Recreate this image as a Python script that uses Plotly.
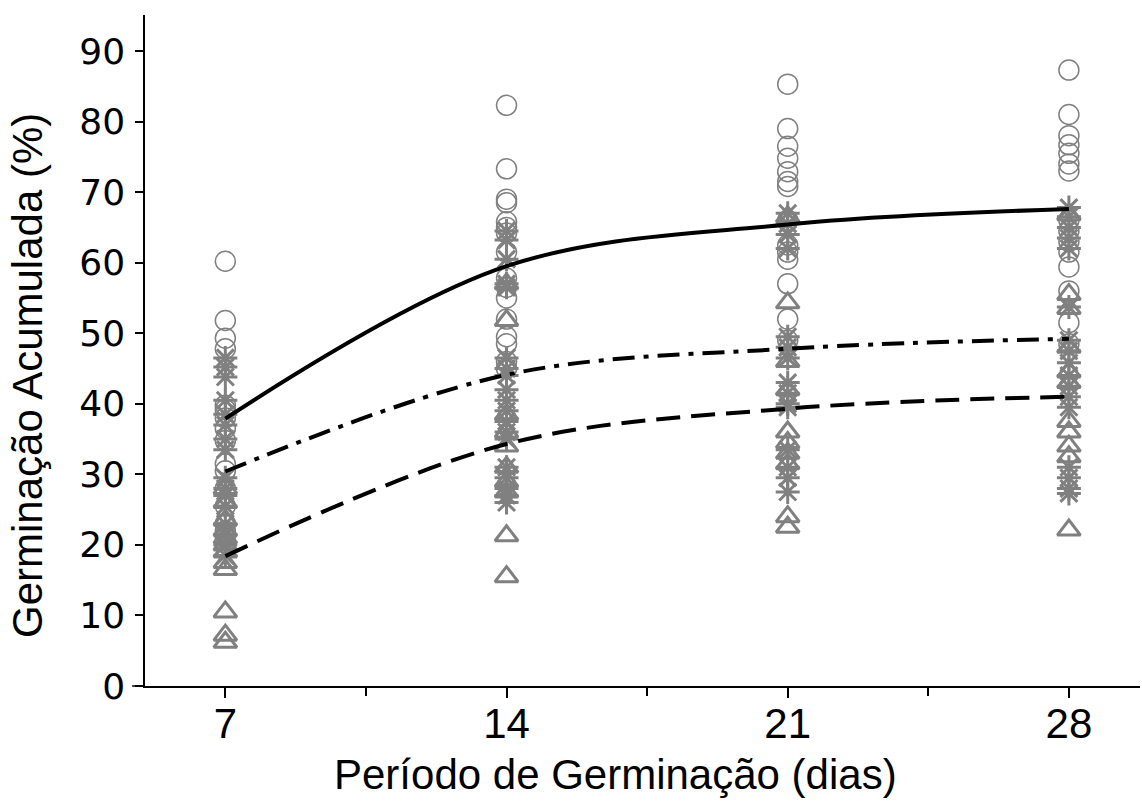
import plotly.graph_objects as go

# Germination periods (days)
days = [7, 14, 21, 28]

# Observed cumulative germination (%) per period, three seed groups
circles_7 = [60.2, 51.8, 49.3, 47.8, 39.8, 39.2, 38.0, 36.5, 34.8, 31.5, 30.5, 28.0, 25.5, 23.0, 22.0, 21.0]
circles_14 = [82.3, 73.3, 69.0, 68.5, 65.8, 65.0, 64.2, 61.5, 57.8, 56.5, 55.0, 52.0, 49.5, 48.5, 46.0, 45.0]
circles_21 = [85.3, 79.0, 76.5, 74.8, 72.9, 71.5, 70.8, 66.0, 62.5, 61.5, 60.5, 57.0, 52.0, 49.0]
circles_28 = [87.3, 81.0, 78.0, 76.7, 75.5, 74.0, 73.0, 66.0, 64.5, 63.0, 61.5, 59.4, 56.0, 51.5, 48.5]

stars_7 = [46.5, 45.2, 43.8, 40.5, 38.5, 37.0, 35.0, 33.5, 29.5, 28.0, 27.0, 25.5, 23.0, 21.5, 20.0, 18.5]
stars_14 = [64.5, 63.2, 60.5, 57.0, 56.5, 46.5, 45.0, 44.0, 42.0, 40.5, 39.0, 37.5, 36.0, 35.0, 31.0, 29.5, 28.0, 27.0, 26.0]
stars_21 = [67.0, 65.5, 64.0, 62.0, 49.5, 48.0, 46.5, 43.0, 41.5, 40.0, 39.5, 33.5, 31.0, 29.5, 27.5]
stars_28 = [67.8, 66.5, 65.0, 63.5, 62.0, 53.7, 49.0, 47.5, 45.8, 44.0, 42.5, 41.0, 39.5, 31.0, 29.5, 28.0, 27.3]

tri_7 = [28.0, 26.0, 23.5, 22.0, 21.0, 20.0, 19.0, 17.5, 16.5, 10.5, 7.2, 6.2]
tri_14 = [57.0, 51.8, 38.5, 36.0, 34.0, 31.0, 29.0, 27.5, 21.3, 15.5]
tri_21 = [66.5, 54.3, 46.0, 42.0, 36.0, 34.5, 33.0, 31.5, 24.0, 22.5]
tri_28 = [66.8, 55.5, 53.5, 48.0, 44.5, 43.0, 37.5, 36.0, 34.0, 32.5, 22.1]

# Fitted curves evaluated at each period
fit_solid = [37.9, 59.5, 65.4, 67.6]
fit_dashdot = [30.4, 44.1, 47.8, 49.2]
fit_dashed = [18.4, 34.3, 39.3, 41.0]

# Axis ticks and titles
y_ticks = [0, 10, 20, 30, 40, 50, 60, 70, 80, 90]
x_ticks = [7, 14, 21, 28]
x_title = "Período de Germinação (dias)"
y_title = "Germinação Acumulada (%)"

GRAY = "#808080"


def column(groups):
    xs, ys = [], []
    for d, vals in zip(days, groups):
        xs += [d] * len(vals)
        ys += vals
    return xs, ys


fig = go.Figure()

cx, cy = column([circles_7, circles_14, circles_21, circles_28])
fig.add_trace(go.Scatter(
    x=cx, y=cy, mode="markers",
    marker=dict(symbol="circle-open", size=20, color=GRAY, line=dict(width=1.5, color=GRAY)),
))

sx, sy = column([stars_7, stars_14, stars_21, stars_28])
fig.add_trace(go.Scatter(
    x=sx, y=sy, mode="markers",
    marker=dict(symbol="asterisk-open", size=20, color=GRAY, line=dict(width=3, color=GRAY)),
))

tx, ty = column([tri_7, tri_14, tri_21, tri_28])
fig.add_trace(go.Scatter(
    x=tx, y=ty, mode="markers",
    marker=dict(symbol="triangle-up-open", size=20, color=GRAY, line=dict(width=3, color=GRAY)),
))

for vals, dash in [(fit_solid, "solid"), (fit_dashdot, "22px,9px,5px,9px"), (fit_dashed, "24px,11px")]:
    fig.add_trace(go.Scatter(
        x=days, y=vals, mode="lines",
        line=dict(color="black", width=4, dash=dash, shape="spline", smoothing=1.0),
    ))

fig.update_layout(
    width=1142, height=804,
    margin=dict(l=145, r=2, t=15, b=118),
    paper_bgcolor="white", plot_bgcolor="white",
    showlegend=False,
    font=dict(family="Liberation Sans, Arial, sans-serif", color="black"),
)

fig.update_xaxes(
    range=[5.0, 29.77],
    tickvals=x_ticks, ticktext=[str(v) for v in x_ticks],
    ticks="outside", ticklen=10, tickwidth=1.5, tickcolor="black",
    tickfont=dict(size=42), ticklabelstandoff=-10,
    minor=dict(tickvals=[10.5, 17.5, 24.5], ticks="outside", ticklen=8, tickwidth=1.5, tickcolor="black"),
    showline=True, linecolor="black", linewidth=1.5,
    showgrid=False, zeroline=False,
)

fig.update_yaxes(
    range=[0, 95.1],
    tickvals=y_ticks,
    ticks="outside", ticklen=8, tickwidth=1.5, tickcolor="black",
    tickfont=dict(size=36, family="DejaVu Sans, Verdana, sans-serif"), ticklabelstandoff=3,
    showline=True, linecolor="black", linewidth=1.5,
    showgrid=False, zeroline=False,
)

# Short extension of the x axis line to the left of the y axis
fig.add_shape(type="line", xref="paper", yref="paper", x0=-0.013, x1=0, y0=0, y1=0,
              line=dict(color="black", width=1.5))

fig.add_annotation(text=x_title, xref="paper", yref="paper", x=0.4724, y=-0.1326,
                   xanchor="center", yanchor="middle", showarrow=False, font=dict(size=42))
fig.add_annotation(text=y_title, xref="paper", yref="paper", x=-0.1176, y=0.4635,
                   xanchor="center", yanchor="middle", textangle=-90, showarrow=False,
                   font=dict(size=42))

fig.write_html("out.html")
